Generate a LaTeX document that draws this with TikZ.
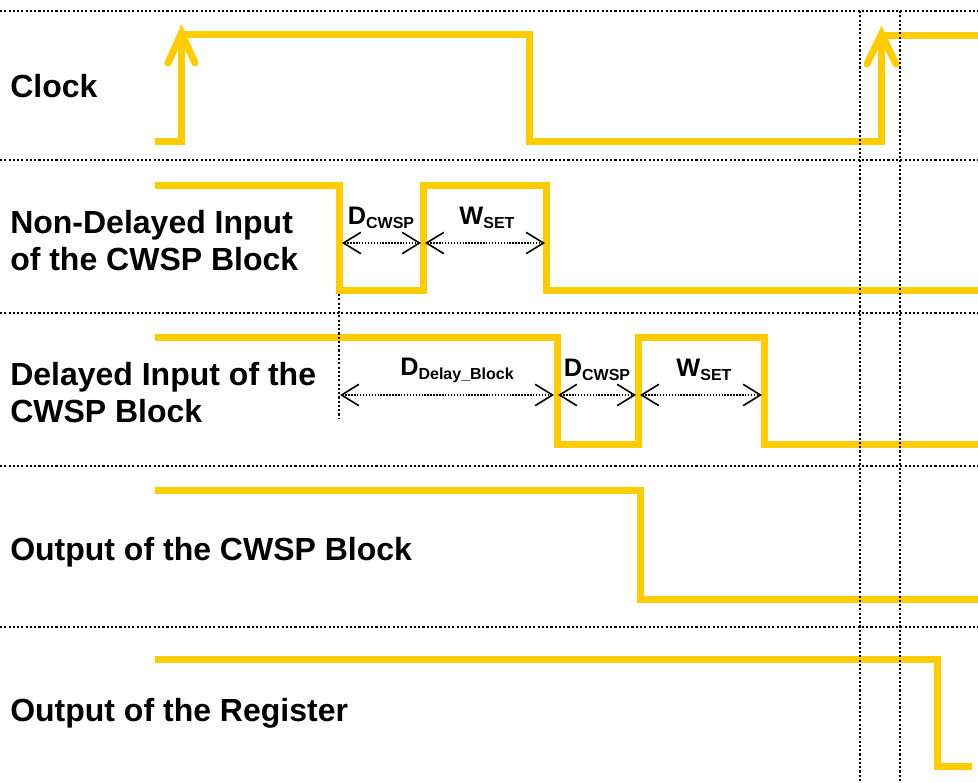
\documentclass[tikz,border=0pt]{standalone}
\usepackage{fontspec}
\setmainfont{Liberation Sans}
\usetikzlibrary{arrows.meta}
\newcommand\sublbl[2]{{\fontsize{19}{19}\selectfont\bfseries #1}\raisebox{-3pt}{\fontsize{12}{12}\selectfont\bfseries #2}}
\begin{document}
\begin{tikzpicture}[x=0.75pt,y=-0.75pt,
  sig/.style={draw={rgb,255:red,255;green,204;blue,0},line width=5.25pt,line join=miter},
  clkarrow/.style={draw={rgb,255:red,255;green,204;blue,0},line width=5.25pt,line cap=round,line join=miter},
  grid/.style={draw=black,line width=1.7pt,dash pattern=on 1.6pt off 1.6pt},
  dim/.style={draw=black,line width=1.1pt,dash pattern=on 1.1pt off 1.1pt,{Straight Barb[length=13pt,width=16pt,line width=1.2pt]}-{Straight Barb[length=13pt,width=16pt,line width=1.2pt]}},
  lab/.style={anchor=base west,inner sep=0pt,align=left,font=\fontsize{24}{27.5}\selectfont\bfseries},
  sub/.style={inner sep=0pt}]
\useasboundingbox (0,0) rectangle (978,782);
% signals
\draw[sig] (155,141) -- (181.5,141) -- (181.5,34) -- (529,34) -- (529,141) -- (881.5,141) -- (881.5,35) -- (978,35);
\draw[clkarrow] (168,63) -- (181.5,33) -- (195,63);
\draw[clkarrow] (867,64) -- (881.5,34) -- (896,64);
\draw[sig] (155,185) -- (339,185) -- (339,290) -- (423,290) -- (423,185) -- (546,185) -- (546,290) -- (978,290);
\draw[sig] (155,337) -- (557,337) -- (557,444) -- (638,444) -- (638,337) -- (764,337) -- (764,444) -- (978,444);
\draw[sig] (155,490) -- (640,490) -- (640,599) -- (978,599);
\draw[sig] (155,659) -- (937,659) -- (937,766) -- (972,766);
% grid
\coordinate (h1a) at (0,11); \coordinate (h1b) at (978,11);
\coordinate (h2a) at (0,160); \coordinate (h2b) at (978,160);
\coordinate (h3a) at (0,313); \coordinate (h3b) at (978,313);
\coordinate (h4a) at (0,466); \coordinate (h4b) at (978,466);
\coordinate (h5a) at (0,627); \coordinate (h5b) at (978,627);
\draw[grid] (h1a) -- (h1b);
\draw[grid] (h2a) -- (h2b);
\draw[grid] (h3a) -- (h3b);
\draw[grid] (h4a) -- (h4b);
\draw[grid] (h5a) -- (h5b);
\coordinate (v1a) at (860,11); \coordinate (v1b) at (860,782);
\coordinate (v2a) at (900,11); \coordinate (v2b) at (900,782);
\coordinate (v3a) at (339,294); \coordinate (v3b) at (339,418);
\draw[grid] (v1a) -- (v1b);
\draw[grid] (v2a) -- (v2b);
\draw[grid] (v3a) -- (v3b);
% dimension arrows
\coordinate (a1) at (342,243); \coordinate (a2) at (421,243);
\coordinate (a3) at (425,243); \coordinate (a4) at (545,243);
\draw[dim] (a1) -- (a2);
\draw[dim] (a3) -- (a4);
\coordinate (b1) at (340,395); \coordinate (b2) at (554,395);
\coordinate (b3) at (558,395); \coordinate (b4) at (636,395);
\coordinate (b5) at (640,395); \coordinate (b6) at (762,395);
\draw[dim] (b1) -- (b2);
\draw[dim] (b3) -- (b4);
\draw[dim] (b5) -- (b6);
\node[sub] (l1) at (381,218) {\sublbl{D}{CWSP}};
\node[sub] (l2) at (487,218) {\sublbl{W}{SET}};
\node[sub] (l3) at (457,370) {\sublbl{D}{Delay\_Block}};
\node[sub] (l4) at (597,370) {\sublbl{D}{CWSP}};
\node[sub] (l5) at (704,370) {\sublbl{W}{SET}};
% labels
\node[lab] (t1) at (10,97) {Clock};
\node[lab] (t2) at (10,270) {Non-Delayed Input\\of the CWSP Block};
\node[lab] (t3) at (10,422) {Delayed Input of the\\CWSP Block};
\node[lab] (t4) at (10,560) {Output of the CWSP Block};
\node[lab] (t5) at (10,721) {Output of the Register};
\end{tikzpicture}
\end{document}
